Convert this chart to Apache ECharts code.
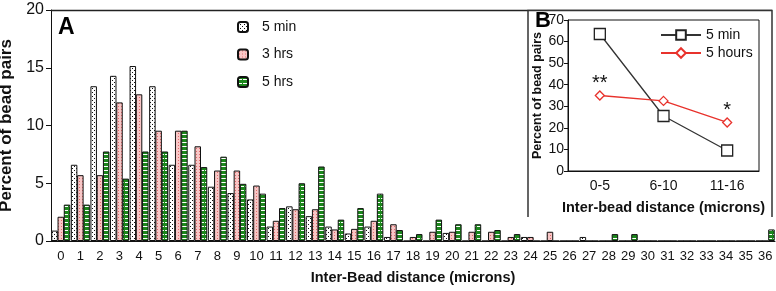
<!DOCTYPE html>
<html><head><meta charset="utf-8">
<script src="https://cdn.jsdelivr.net/npm/echarts@6/dist/echarts.min.js"></script>
<style>html,body{margin:0;padding:0;background:#fff}#c{width:776px;height:291px}</style>
</head><body><div id="c"></div>
<script>
// ---- data ----
const categories = ['0','1','2','3','4','5','6','7','8','9','10','11','12','13','14','15','16','17','18','19','20','21','22','23','24','25','26','27','28','29','30','31','32','33','34','35','36'];
const min5 = [0.9,6.6,13.4,14.3,15.15,13.4,6.6,6.6,4.7,4.15,3.6,1.25,3.0,2.15,1.25,0.65,1.25,0.35,0,0,0.7,0,0,0,0.35,0,0,0.35,0,0,0,0,0,0,0,0,0];
const hrs3 = [2.1,5.7,5.7,12.0,12.7,9.55,9.55,8.2,6.1,6.1,4.8,1.75,2.75,2.75,1.0,1.05,1.75,1.45,0.35,0.8,0.8,0.8,0.8,0.35,0.35,0.8,0,0,0,0,0,0,0,0,0,0,0];
const hrs5 = [3.15,3.15,7.75,5.4,7.75,7.75,9.55,6.4,7.3,4.95,4.1,2.85,5.0,6.45,1.85,2.85,4.1,0.95,0.6,1.85,1.45,1.45,0.95,0.6,0,0,0,0,0.6,0.6,0,0,0,0,0,0,1.0];
const seriesNames = ['5 min','3 hrs','5 hrs'];
const yTicks = [0,5,10,15,20];

const insetCats = ['0-5','6-10','11-16'];
const inset5min = [63.5,25.5,9.5];
const inset5hours = [35,32.5,22.5];
const insetNames = ['5 min','5 hours'];
const stars = ['**','','*'];

// ---- patterns ----
function pattern(w,h,bg,draw){
  const c=document.createElement('canvas');c.width=w;c.height=h;
  const g=c.getContext('2d');g.fillStyle=bg;g.fillRect(0,0,w,h);draw(g);
  return {image:c,repeat:'repeat'};
}
const patDots = pattern(4,4,'#ffffff',g=>{g.fillStyle='#111';g.fillRect(0,0,1,1);g.fillRect(2,2,1,1);});
const patPink = pattern(3,3,'#f8c6c6',g=>{g.fillStyle='#e06a6a';g.fillRect(1,1,1,1);});
const patGreen = pattern(8,4,'#1c871c',g=>{g.fillStyle='#ffffff';g.fillRect(0,2,8,1);g.fillStyle='#1c871c';g.fillRect(4,2,1,1);});

const FF = '"Liberation Sans", Arial, Helvetica, sans-serif';
const PFX = 'B:';
const chart = echarts.init(document.getElementById('c'),null,{renderer:'canvas'});

function barSeries(name,data,pat){
  return {name,type:'bar',xAxisIndex:0,yAxisIndex:0,data,barGap:'-4%',barCategoryGap:'3%',
    itemStyle:{color:pat,borderColor:'#111',borderWidth:1},emphasis:{disabled:true}};
}

chart.setOption({
  animation:false,
  textStyle:{fontFamily:FF},
  grid:[
    {left:51,top:10,width:724,height:231,containLabel:false,outerBoundsMode:'none'},
    {left:568,top:20,width:191,height:151,containLabel:false,outerBoundsMode:'none',show:true,borderColor:'#111',borderWidth:1,backgroundColor:'#fff',z:10}
  ],
  legend:[
    {data:seriesNames,orient:'vertical',left:237,top:20,padding:0,itemWidth:10,itemHeight:10,itemGap:13.5,
     textStyle:{fontSize:14,color:'#111',fontFamily:FF,padding:[0,0,0,9]}},
    {data:insetNames.map(n=>PFX+n),orient:'vertical',left:660,top:28,padding:0,itemWidth:40,itemHeight:12,itemGap:4,z:20,
     formatter:n=>n.slice(PFX.length),
     textStyle:{fontSize:14,color:'#111',fontFamily:FF}}
  ],
  xAxis:[
    {type:'category',gridIndex:0,data:categories,
     axisLine:{lineStyle:{color:'#111',width:1}},
     axisTick:{alignWithLabel:true,length:4,lineStyle:{color:'#111'}},
     axisLabel:{interval:0,fontSize:13,color:'#111',margin:9,fontFamily:FF},
     name:'Inter-Bead distance (microns)',nameLocation:'middle',nameGap:29,
     nameTextStyle:{fontSize:14.5,fontWeight:'bold',color:'#111',fontFamily:FF}},
    {type:'category',gridIndex:1,data:insetCats,z:12,
     axisLine:{lineStyle:{color:'#111'}},
     axisTick:{alignWithLabel:true,length:5,lineStyle:{color:'#111'}},
     axisLabel:{fontSize:14,color:'#111',margin:8,fontFamily:FF},
     name:'Inter-bead distance (microns)',nameLocation:'middle',nameGap:29,
     nameTextStyle:{fontSize:14.5,fontWeight:'bold',color:'#111',fontFamily:FF}}
  ],
  yAxis:[
    {type:'value',gridIndex:0,min:yTicks[0],max:yTicks[yTicks.length-1],interval:5,
     axisLine:{show:true,lineStyle:{color:'#111'}},
     axisTick:{show:true,length:5,lineStyle:{color:'#111'}},
     splitLine:{show:false},
     axisLabel:{fontSize:16,color:'#111',margin:7,fontFamily:FF},
     name:'Percent of bead pairs',nameLocation:'middle',nameGap:26,
     nameTextStyle:{fontSize:17,fontWeight:'bold',color:'#111',fontFamily:FF}},
    {type:'value',gridIndex:1,min:0,max:70,interval:10,z:12,
     axisLine:{show:true,lineStyle:{color:'#111'}},
     axisTick:{show:true,length:4,lineStyle:{color:'#111'}},
     splitLine:{show:false},
     axisLabel:{fontSize:14,color:'#111',margin:4,fontFamily:FF},
     name:'Percent of bead pairs',nameLocation:'middle',nameGap:24,
     nameTextStyle:{fontSize:12.5,fontWeight:'bold',color:'#111',fontFamily:FF}}
  ],
  graphic:[
    {type:'line',shape:{x1:51,y1:10.5,x2:772,y2:10.5},style:{stroke:'#222',lineWidth:1.5},z:5},
    {type:'rect',shape:{x:528,y:10.5,width:244,height:207},style:{fill:'#fff',stroke:null},z:6},
    {type:'polyline',shape:{points:[[528,217],[528,10.5],[772,10.5],[772,217]]},style:{fill:null,stroke:'#333',lineWidth:1.5},z:7},
    {type:'text',left:58,top:16,style:{text:'A',font:'bold 23px '+FF,fill:'#000'},z:20},
    {type:'text',left:535,top:10,style:{text:'B',font:'bold 22px '+FF,fill:'#000'},z:20}
  ],
  series:[
    barSeries(seriesNames[0],min5,patDots),
    barSeries(seriesNames[1],hrs3,patPink),
    barSeries(seriesNames[2],hrs5,patGreen),
    {name:PFX+insetNames[0],type:'line',xAxisIndex:1,yAxisIndex:1,data:inset5min,z:15,
     symbol:'rect',symbolSize:11,showAllSymbol:true,
     lineStyle:{color:'#333',width:1.3},itemStyle:{color:'#fff',borderColor:'#222',borderWidth:1.3}},
    {name:PFX+insetNames[1],type:'line',xAxisIndex:1,yAxisIndex:1,data:inset5hours,z:15,
     symbol:'diamond',symbolSize:9,
     lineStyle:{color:'#e8322c',width:1.3},itemStyle:{color:'#fff',borderColor:'#e8322c',borderWidth:1.3},
     label:{show:true,position:'top',distance:-3,fontSize:20,color:'#111',fontFamily:FF,
       formatter:p=>stars[p.dataIndex]}}
  ]
});
</script></body></html>
